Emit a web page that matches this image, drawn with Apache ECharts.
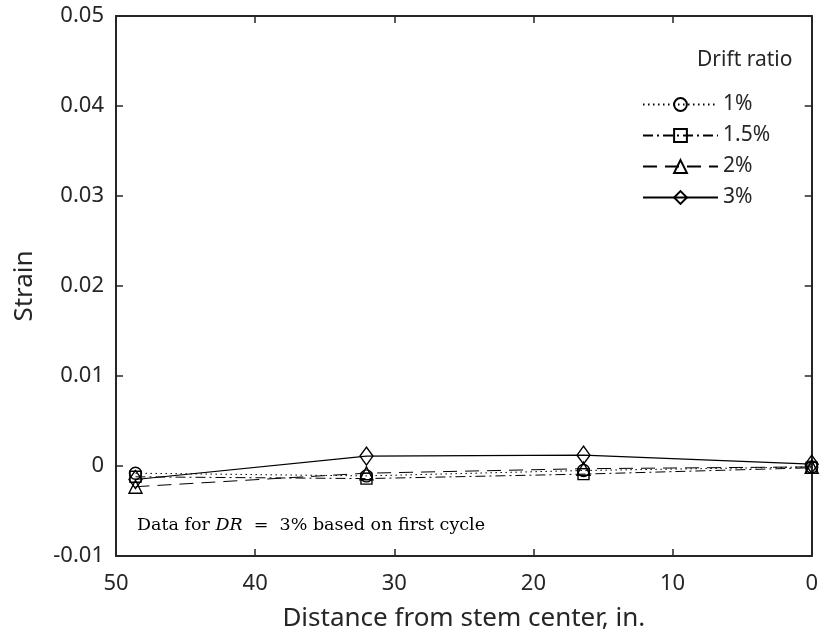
<!DOCTYPE html>
<html>
<head>
<meta charset="utf-8">
<script src="https://cdn.jsdelivr.net/npm/echarts@6/dist/echarts.min.js"></script>
<style>
  html, body { margin: 0; padding: 0; background: #fff; }
  #chart { width: 821px; height: 641px; }
</style>
</head>
<body>
<div id="chart"></div>
<script>
// Distance from stem center (in.) for each gauge
const distances = [48.6, 32.0, 16.4, 0];

// Measured strain per drift ratio
const drift1 = [-0.0008, -0.0011, -0.0005, -0.0001];
const drift15 = [-0.0012, -0.0014, -0.0009, -0.0002];
const drift2 = [-0.0023, -0.0008, -0.0003, -0.0001];
const drift3 = [-0.0015, 0.0011, 0.0012, 0.0002];

const seriesNames = ['1%', '1.5%', '2%', '3%'];
const xTicks = [0, 10, 20, 30, 40, 50];
const yTicks = [-0.01, 0, 0.01, 0.02, 0.03, 0.04, 0.05];

const ink = '#262626';
const sans = 'Noto Sans';

function pairs(ys) {
  return distances.map((d, i) => [d, ys[i]]);
}

function lineSeries(name, ys, symbol, size, dash, width) {
  return {
    name: name,
    type: 'line',
    data: pairs(ys),
    symbol: symbol,
    symbolSize: size,
    showSymbol: true,
    z: 3,
    lineStyle: { color: '#000', width: width, type: dash },
    itemStyle: { color: 'rgba(255,255,255,0)', borderColor: '#000', borderWidth: 1.4 },
    emphasis: { disabled: true },
    animation: false
  };
}

const chart = echarts.init(document.getElementById('chart'), null, { renderer: 'canvas' });

const axisCommon = {
  axisLine: { show: true, onZero: false, lineStyle: { color: ink, width: 2 } },
  axisTick: { show: true, inside: true, length: 7, lineStyle: { color: ink, width: 1.5 } },
  splitLine: { show: false }
};

chart.setOption({
  backgroundColor: '#fff',
  animation: false,
  title: [
    {
      text: 'Drift ratio',
      left: 692, top: 45,
      textStyle: { fontFamily: sans, fontSize: 21, fontWeight: 'normal', color: ink }
    },
    {
      text: 'Data for {it|DR}  =  3% based on first cycle',
      left: 132, top: 511,
      textStyle: {
        fontFamily: 'DejaVu Serif', fontSize: 17.5, fontWeight: 'normal', color: '#000',
        rich: { it: { fontFamily: 'DejaVu Serif', fontStyle: 'italic', fontSize: 17.5, color: '#000' } }
      }
    }
  ],
  legend: {
    data: seriesNames,
    orient: 'vertical',
    left: 637, top: 89,
    itemWidth: 75, itemHeight: 16, itemGap: 10,
    textStyle: { fontFamily: sans, fontSize: 21, color: ink, lineHeight: 20, padding: [0, 0, 0, 0] },
    selectedMode: false
  },
  grid: { left: 116, right: 9, top: 16, bottom: 85, containLabel: false },
  xAxis: [
    Object.assign({}, axisCommon, {
      type: 'value',
      inverse: true,
      min: xTicks[0], max: xTicks[xTicks.length - 1], interval: 10,
      position: 'bottom',
      name: 'Distance from stem center, in.',
      nameLocation: 'middle', nameGap: 50,
      nameTextStyle: { fontFamily: sans, fontSize: 26, color: ink },
      axisLabel: { fontFamily: sans, fontSize: 22, color: ink, margin: 17 }
    }),
    Object.assign({}, axisCommon, {
      type: 'value',
      inverse: true,
      min: xTicks[0], max: xTicks[xTicks.length - 1], interval: 10,
      position: 'top',
      axisLabel: { show: false }
    })
  ],
  yAxis: [
    Object.assign({}, axisCommon, {
      type: 'value',
      min: yTicks[0], max: yTicks[yTicks.length - 1], interval: 0.01,
      position: 'left',
      name: 'Strain',
      nameLocation: 'middle', nameGap: 78,
      nameTextStyle: { fontFamily: sans, fontSize: 26, color: ink },
      axisLabel: {
        fontFamily: sans, fontSize: 22, color: ink, margin: 12,
        formatter: v => (Math.abs(v) < 1e-9 ? '0' : v.toFixed(2))
      }
    }),
    Object.assign({}, axisCommon, {
      type: 'value',
      min: yTicks[0], max: yTicks[yTicks.length - 1], interval: 0.01,
      position: 'right',
      axisLabel: { show: false }
    })
  ],
  series: [
    lineSeries('1%', drift1, 'circle', 12, [1.5, 3.5], 1),
    lineSeries('1.5%', drift15, 'rect', 11, [10, 4, 2, 4], 1),
    lineSeries('2%', drift2, 'triangle', 13, [14, 8], 1),
    lineSeries('3%', drift3, 'diamond', [13, 18], 'solid', 1.2)
  ]
});
</script>
</body>
</html>
